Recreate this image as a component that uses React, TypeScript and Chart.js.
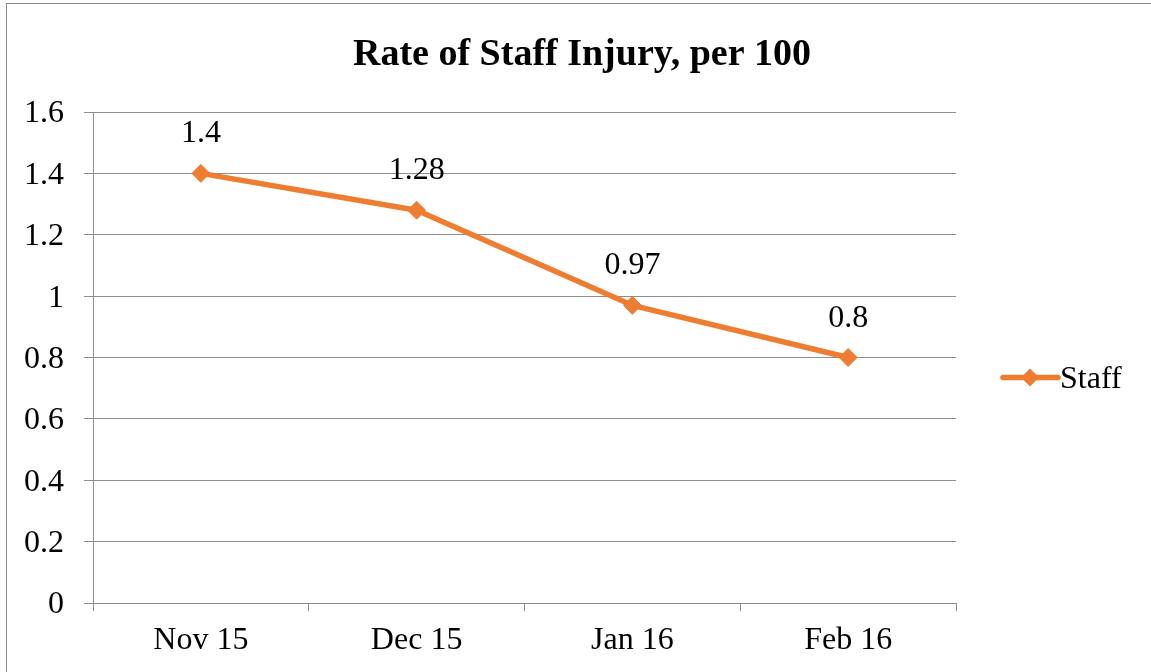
import React, { useEffect, useRef } from "react";
import { Chart, registerables } from "chart.js";

Chart.register(...registerables);

const categories: string[] = ["Nov 15", "Dec 15", "Jan 16", "Feb 16"];
const staffValues: number[] = [1.4, 1.28, 0.97, 0.8];
const seriesName = "Staff";
const titleText = "Rate of Staff Injury, per 100";
const yMin = 0;
const yMax = 1.6;
const yStep = 0.2;

const ORANGE = "#EE7D31";
const GRID = "#8E8E8E";
const FONT = "'Liberation Serif', 'Times New Roman', serif";

const extrasPlugin = {
  id: "extras",
  afterDatasetsDraw(chart: any) {
    const ctx = chart.ctx as CanvasRenderingContext2D;
    const area = chart.chartArea;
    ctx.save();
    // Title
    ctx.fillStyle = "#000";
    ctx.font = `bold 38px ${FONT}`;
    ctx.textAlign = "center";
    ctx.textBaseline = "alphabetic";
    ctx.fillText(titleText, 575, 61);

    // Data labels
    const meta = chart.getDatasetMeta(0);
    ctx.font = `32px ${FONT}`;
    ctx.textBaseline = "alphabetic";
    meta.data.forEach((pt: any, i: number) => {
      const v = chart.data.datasets[0].data[i];
      ctx.fillText(String(v), pt.x, pt.y - 31);
    });

    // Legend
    const ly = (area.top + area.bottom) / 2 + 20;
    const lx = area.right + 47;
    ctx.strokeStyle = ORANGE;
    ctx.lineWidth = 5.5;
    ctx.lineCap = "round";
    ctx.beginPath();
    ctx.moveTo(lx, ly);
    ctx.lineTo(lx + 55, ly);
    ctx.stroke();
    ctx.fillStyle = ORANGE;
    const cx = lx + 27;
    const r = 9;
    ctx.beginPath();
    ctx.moveTo(cx, ly - r);
    ctx.lineTo(cx + r, ly);
    ctx.lineTo(cx, ly + r);
    ctx.lineTo(cx - r, ly);
    ctx.closePath();
    ctx.fill();
    ctx.fillStyle = "#000";
    ctx.textAlign = "left";
    ctx.textBaseline = "middle";
    ctx.font = `32px ${FONT}`;
    ctx.fillText(seriesName, lx + 57, ly + 2);
    ctx.restore();
  },
};

export default function App() {
  const canvasRef = useRef<HTMLCanvasElement | null>(null);

  useEffect(() => {
    if (!canvasRef.current) return;
    const chart = new Chart(canvasRef.current, {
      type: "line",
      data: {
        labels: categories,
        datasets: [
          {
            label: seriesName,
            data: staffValues,
            borderColor: ORANGE,
            backgroundColor: ORANGE,
            borderWidth: 5.5,
            pointStyle: "rectRot",
            pointRadius: 9,
            pointHoverRadius: 9,
            pointBackgroundColor: ORANGE,
            pointBorderColor: ORANGE,
            pointBorderWidth: 1,
            tension: 0,
            borderCapStyle: "round",
            borderJoinStyle: "round",
          },
        ],
      },
      options: {
        animation: false,
        responsive: false,
        maintainAspectRatio: false,
        devicePixelRatio: 1,
        layout: { padding: { left: 0, top: 108, right: 211, bottom: 0 } },
        plugins: {
          legend: { display: false },
          title: { display: false },
          tooltip: { enabled: false },
        },
        scales: {
          x: {
            type: "category",
            offset: true,
            grid: {
              display: true,
              drawOnChartArea: false,
              drawTicks: true,
              tickLength: 8,
              offset: true,
              color: GRID,
              lineWidth: 1,
            },
            border: { display: true, color: GRID, width: 1 },
            ticks: {
              color: "#000",
              font: { family: FONT, size: 32 },
              padding: 10,
              maxRotation: 0,
            },
            afterFit(scale: any) {
              scale.height = 101;
            },
          },
          y: {
            type: "linear",
            min: yMin,
            max: yMax,
            grid: {
              color: GRID,
              lineWidth: 1,
              tickLength: 9,
              drawTicks: true,
            },
            border: { display: true, color: GRID, width: 1 },
            ticks: {
              stepSize: yStep,
              color: "#000",
              font: { family: FONT, size: 32 },
              padding: 20,
              labelOffset: 2,
              callback: (v: any) => String(Math.round(Number(v) * 10) / 10),
            },
            afterFit(scale: any) {
              scale.width = 86;
            },
          },
        },
      },
      plugins: [extrasPlugin],
    });
    return () => chart.destroy();
  }, []);

  return (
    <div style={{ position: "fixed", left: 0, top: 0, width: 1151, height: 672, overflow: "hidden", background: "#fff" }}>
      <div
        style={{
          position: "absolute",
          left: 6,
          top: 3,
          width: 1160,
          height: 700,
          border: "1px solid #8C8C8C",
          boxSizing: "content-box",
        }}
      >
        <canvas ref={canvasRef} width={1160} height={700} style={{ display: "block", width: 1160, height: 700 }} />
      </div>
    </div>
  );
}
